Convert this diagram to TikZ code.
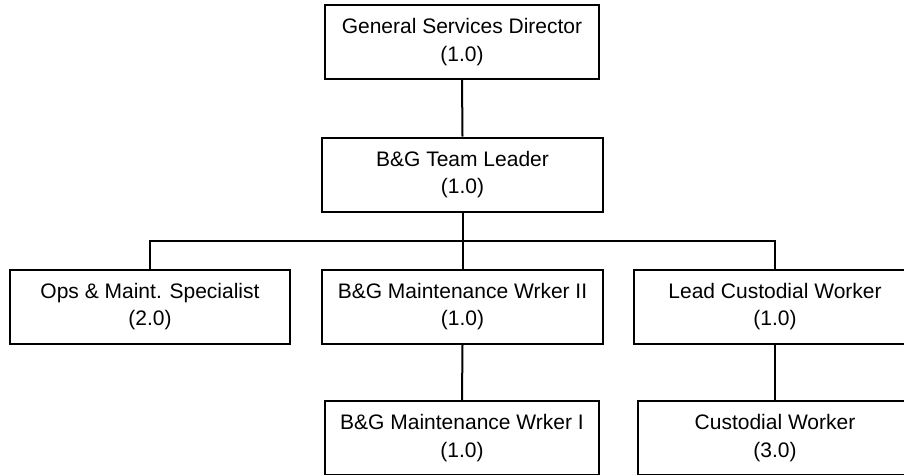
\documentclass[tikz,border=0pt]{standalone}
\usepackage{fontspec}
\setmainfont{Liberation Sans}
\usepackage{tikz}

\begin{document}
\begin{tikzpicture}[x=1pt,y=-1pt,
	post/.style={draw,line width=2pt,minimum width=280pt,minimum height=74pt,
		align=center,inner sep=0pt,font=\fontsize{21}{27.5}\selectfont},
	link/.style={line width=2pt}]
	\useasboundingbox (0,0) rectangle (904,474);
	\node[post,minimum width=274pt] (gsd) at (462,42) {General Services Director\\(1.0)};
	\node[post,minimum width=281pt] (tl) at (462.5,174.5) {B\&G Team Leader\\(1.0)};
	\node[post] (ops) at (150,306.5) {Ops \& Maint. Specialist\\(2.0)};
	\node[post,minimum width=281pt] (mw2) at (462.5,306.5) {B\&G Maintenance Wrker II\\(1.0)};
	\node[post,minimum width=282pt] (lcw) at (775,306.5) {Lead Custodial Worker\\(1.0)};
	\node[post,minimum width=274pt] (mw1) at (462,438) {B\&G Maintenance Wrker I\\(1.0)};
	\node[post,minimum width=274pt] (cw) at (775,438) {Custodial Worker\\(3.0)};
	\coordinate (bus) at (462,241);
	\draw[link] (gsd.south) -- (tl.north);
	\draw[link] (tl.south) -- (mw2.north);
	\draw[link] (ops.north) |- (bus) -| (lcw.north);
	\draw[link] (mw2.south) -- (mw1.north);
	\draw[link] (lcw.south) -- (cw.north);
\end{tikzpicture}
\end{document}
